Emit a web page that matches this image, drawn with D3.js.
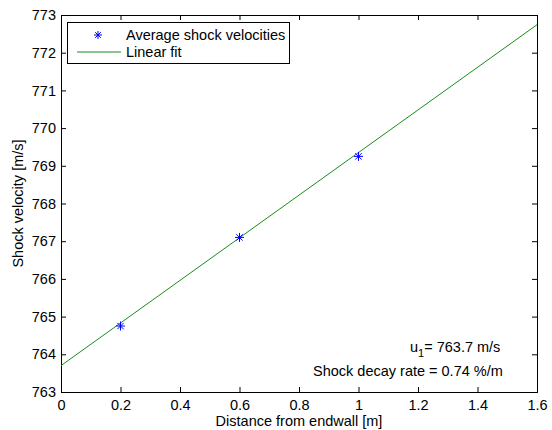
<!DOCTYPE html>
<html>
<head>
<meta charset="utf-8">
<script src="https://cdn.jsdelivr.net/npm/d3@7"></script>
<style>
  html, body { margin: 0; padding: 0; background: #fff; }
  svg text { font-family: "Liberation Sans", Arial, Helvetica, sans-serif; fill: #000; }
</style>
</head>
<body>
<svg id="chart" width="552" height="430"></svg>
<script>
// Measured shock velocities at each station
const distances = [0.2, 0.6, 1.0];
const velocities = [764.75, 767.1, 769.25];

// Linear fit parameters: u = u1 * (1 + rate * x)
const u1 = 763.7;
const decayRate = 0.0074;   // per metre
const fitRange = [0, 1.6];

const xTicks = [0, 0.2, 0.4, 0.6, 0.8, 1, 1.2, 1.4, 1.6];
const yTicks = [763, 764, 765, 766, 767, 768, 769, 770, 771, 772, 773];

const svg = d3.select("#chart");
const m = { left: 61, right: 537, top: 15, bottom: 392 };
const fs = 14.5;
const green = "#1a8c1a";

const x = d3.scaleLinear().domain([0, 1.6]).range([m.left, m.right]);
const y = d3.scaleLinear().domain([763, 773]).range([m.bottom, m.top]);

const tickLen = 5;

// Axes (ticks pointing inward), plus mirrored top/right edges
svg.append("g")
  .attr("transform", `translate(0,${m.bottom})`)
  .call(d3.axisBottom(x).tickValues(xTicks).tickSize(-tickLen).tickPadding(8)
        .tickFormat(d3.format("~g")))
  .call(g => g.selectAll("text").attr("font-size", fs));
svg.append("g")
  .attr("transform", `translate(0,${m.top})`)
  .call(d3.axisTop(x).tickValues(xTicks).tickSize(-tickLen).tickFormat(""));
svg.append("g")
  .attr("transform", `translate(${m.left},0)`)
  .call(d3.axisLeft(y).tickValues(yTicks).tickSize(-tickLen).tickPadding(5)
        .tickFormat(d3.format("d")))
  .call(g => g.selectAll("text").attr("font-size", fs));
svg.append("g")
  .attr("transform", `translate(${m.right},0)`)
  .call(d3.axisRight(y).tickValues(yTicks).tickSize(-tickLen).tickFormat(""));

svg.selectAll(".domain").attr("stroke", "#000").attr("stroke-width", 1);
svg.selectAll(".tick line").attr("stroke", "#000");

// Fitted line
const fit = d => u1 * (1 + decayRate * d);
svg.append("path")
  .datum(fitRange)
  .attr("fill", "none")
  .attr("stroke", green)
  .attr("stroke-width", 1)
  .attr("d", d3.line().x(d => x(d)).y(d => y(fit(d))));

// Asterisk markers
const star = (g, cx, cy, r) => {
  const p = [];
  for (let i = 0; i < 4; i++) {
    const a = i * Math.PI / 4;
    p.push(`M${cx - r * Math.cos(a)},${cy - r * Math.sin(a)}L${cx + r * Math.cos(a)},${cy + r * Math.sin(a)}`);
  }
  g.append("path").attr("d", p.join("")).attr("stroke", "#0000ff")
    .attr("stroke-width", 1).attr("fill", "none");
};
const pts = svg.append("g");
distances.forEach((d, i) => star(pts, x(d), y(velocities[i]), 4.5));

// Legend
const lg = svg.append("g");
lg.append("rect").attr("x", 67.5).attr("y", 22.5).attr("width", 222).attr("height", 41)
  .attr("fill", "#fff").attr("stroke", "#000").attr("stroke-width", 1);
star(lg, 98, 35, 4);
lg.append("text").attr("x", 126).attr("y", 40).attr("font-size", fs).text("Average shock velocities");
lg.append("line").attr("x1", 77).attr("x2", 121).attr("y1", 52).attr("y2", 52)
  .attr("stroke", green).attr("stroke-width", 1);
lg.append("text").attr("x", 126).attr("y", 57).attr("font-size", fs).text("Linear fit");

// Annotations
const ann = svg.append("text").attr("x", 410).attr("y", 352).attr("font-size", fs);
ann.append("tspan").text("u");
ann.append("tspan").attr("font-size", 11).attr("dy", 5).text("1");
ann.append("tspan").attr("dy", -5).text("= " + u1.toFixed(1) + " m/s");
svg.append("text").attr("x", 313).attr("y", 376).attr("font-size", fs)
  .text(`Shock decay rate = ${(decayRate * 100).toFixed(2)} %/m`);

// Axis labels
svg.append("text").attr("x", (m.left + m.right) / 2).attr("y", 426)
  .attr("text-anchor", "middle").attr("font-size", fs).text("Distance from endwall [m]");
svg.append("text").attr("transform", `translate(23,${(m.top + m.bottom) / 2}) rotate(-90)`)
  .attr("text-anchor", "middle").attr("font-size", fs).text("Shock velocity [m/s]");
</script>
</body>
</html>
